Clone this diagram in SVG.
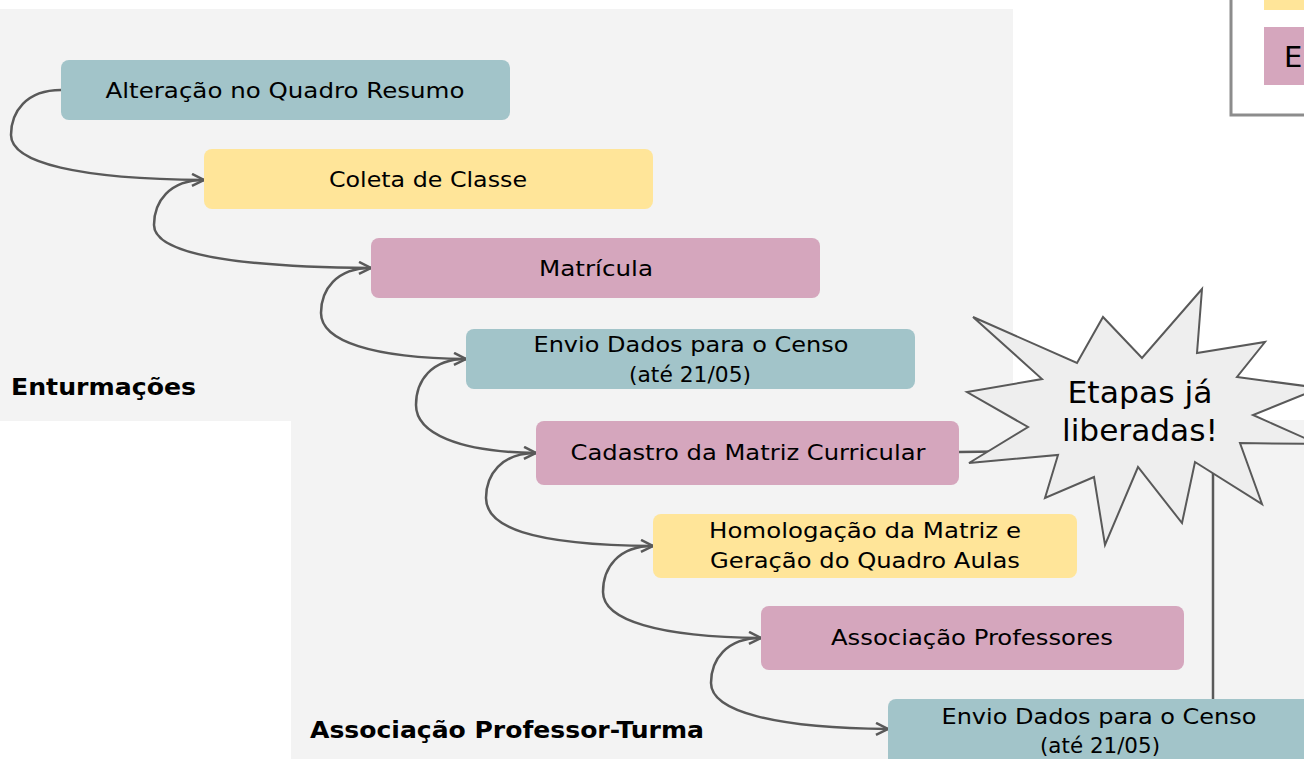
<svg xmlns="http://www.w3.org/2000/svg" width="1304" height="759" viewBox="0 0 1304 759">
<style>
.panel{fill:#f3f3f3}
.teal{fill:#a2c4c9}
.yel{fill:#ffe599}
.pink{fill:#d5a6bd}
.t{font-family:"DejaVu Sans","Open Sans",sans-serif;font-size:21px;fill:#000;text-anchor:middle}
.lbl{font-family:"DejaVu Sans","Open Sans",sans-serif;font-size:23px;font-weight:bold;fill:#000}
.con{fill:none;stroke:#595959;stroke-width:2.5}
.burst{fill:#eeeeee;stroke:#595959;stroke-width:2;stroke-linejoin:miter}
.bt{font-family:"DejaVu Sans","Open Sans",sans-serif;font-size:30px;fill:#000;text-anchor:middle}
</style>
<defs>
<marker id="arr" markerUnits="userSpaceOnUse" markerWidth="16" markerHeight="16" refX="13" refY="7" orient="auto">
<path d="M1,1 L13,7 L1,13" fill="none" stroke="#595959" stroke-width="2.5"/>
</marker>
</defs>
<g id="background">
<rect class="panel" x="0" y="9" width="1013" height="412"/>
<rect class="panel" x="291" y="420" width="1013" height="339"/>
</g>
<g id="legend">
<rect x="1231" y="-20" width="90" height="135" fill="#ffffff" stroke="#8c8c8c" stroke-width="3"/>
<rect x="1264" y="-20" width="60" height="30" class="yel"/>
<rect x="1264" y="27" width="60" height="58" class="pink"/>
<text x="1284" y="67" font-family="DejaVu Sans, sans-serif" font-size="29" fill="#000">E</text>
</g>
<g id="labels">
<text class="lbl" x="11" y="395" textLength="185" lengthAdjust="spacingAndGlyphs">Enturmações</text>
<text class="lbl" x="310" y="738" textLength="394" lengthAdjust="spacingAndGlyphs">Associação Professor-Turma</text>
</g>
<g id="connectors">
<path class="con" marker-end="url(#arr)" d="M61,90 C26,90 11,112 11,135 C11,163 79,179 204,180"/>
<path class="con" marker-end="url(#arr)" d="M204,180 C169,180 154,202 154,225 C154,253 230,267 371,268"/>
<path class="con" marker-end="url(#arr)" d="M371,268 C336,268 321,290 321,313 C321,341 372,358 466,359"/>
<path class="con" marker-end="url(#arr)" d="M466,359 C431,359 416,381 416,405 C416,433 458,452 536,453"/>
<path class="con" marker-end="url(#arr)" d="M536,453 C501,453 486,475 486,498 C486,526 527,545 653,546"/>
<path class="con" marker-end="url(#arr)" d="M653,546 C618,546 603,568 603,592 C603,620 658,637 761,638"/>
<path class="con" marker-end="url(#arr)" d="M761,638 C726,638 711,660 711,683 C711,711 773,728 888,729"/>
<path class="con" d="M959,452 L1100,450"/>
<path class="con" d="M1213,470 L1213,699"/>
</g>
<g id="n1"><rect class="teal" x="61" y="60" width="449" height="60" rx="8"/><text class="t" x="285" y="98" textLength="359" lengthAdjust="spacingAndGlyphs">Alteração no Quadro Resumo</text></g>
<g id="n2"><rect class="yel" x="204" y="149" width="449" height="60" rx="8"/><text class="t" x="428" y="187" textLength="198" lengthAdjust="spacingAndGlyphs">Coleta de Classe</text></g>
<g id="n3"><rect class="pink" x="371" y="238" width="449" height="60" rx="8"/><text class="t" x="596" y="276" textLength="114" lengthAdjust="spacingAndGlyphs">Matrícula</text></g>
<g id="n4"><rect class="teal" x="466" y="329" width="449" height="60" rx="8"/><text class="t" x="691" y="352" textLength="315" lengthAdjust="spacingAndGlyphs">Envio Dados para o Censo</text><text class="t" x="690" y="382" textLength="122" lengthAdjust="spacingAndGlyphs">(até 21/05)</text></g>
<g id="n5"><rect class="pink" x="536" y="421" width="423" height="64" rx="8"/><text class="t" x="748" y="460" textLength="355" lengthAdjust="spacingAndGlyphs">Cadastro da Matriz Curricular</text></g>
<g id="n6"><rect class="yel" x="653" y="514" width="424" height="64" rx="8"/><text class="t" x="865" y="538" textLength="312" lengthAdjust="spacingAndGlyphs">Homologação da Matriz e</text><text class="t" x="865" y="568" textLength="310" lengthAdjust="spacingAndGlyphs">Geração do Quadro Aulas</text></g>
<g id="n7"><rect class="pink" x="761" y="606" width="423" height="64" rx="8"/><text class="t" x="972" y="645" textLength="282" lengthAdjust="spacingAndGlyphs">Associação Professores</text></g>
<g id="n8"><rect class="teal" x="888" y="699" width="440" height="70" rx="8"/><text class="t" x="1099" y="724" textLength="315" lengthAdjust="spacingAndGlyphs">Envio Dados para o Censo</text><text class="t" x="1100" y="753" textLength="120" lengthAdjust="spacingAndGlyphs">(até 21/05)</text></g>
<g id="burst">
<polygon class="burst" points="973,317 1077,363 1103,317 1142,358 1202,289 1197,353 1265,342 1237,377 1320,388 1253,415 1318,444 1240,443 1262,504 1195,462 1182,523 1138,467 1105,545 1094,477 1045,498 1058,455 969,463 1028,427 967,392 1042,379"/>
<text class="bt" x="1140" y="403" textLength="145" lengthAdjust="spacingAndGlyphs">Etapas já</text>
<text class="bt" x="1140" y="441" textLength="156" lengthAdjust="spacingAndGlyphs">liberadas!</text>
</g>
</svg>
